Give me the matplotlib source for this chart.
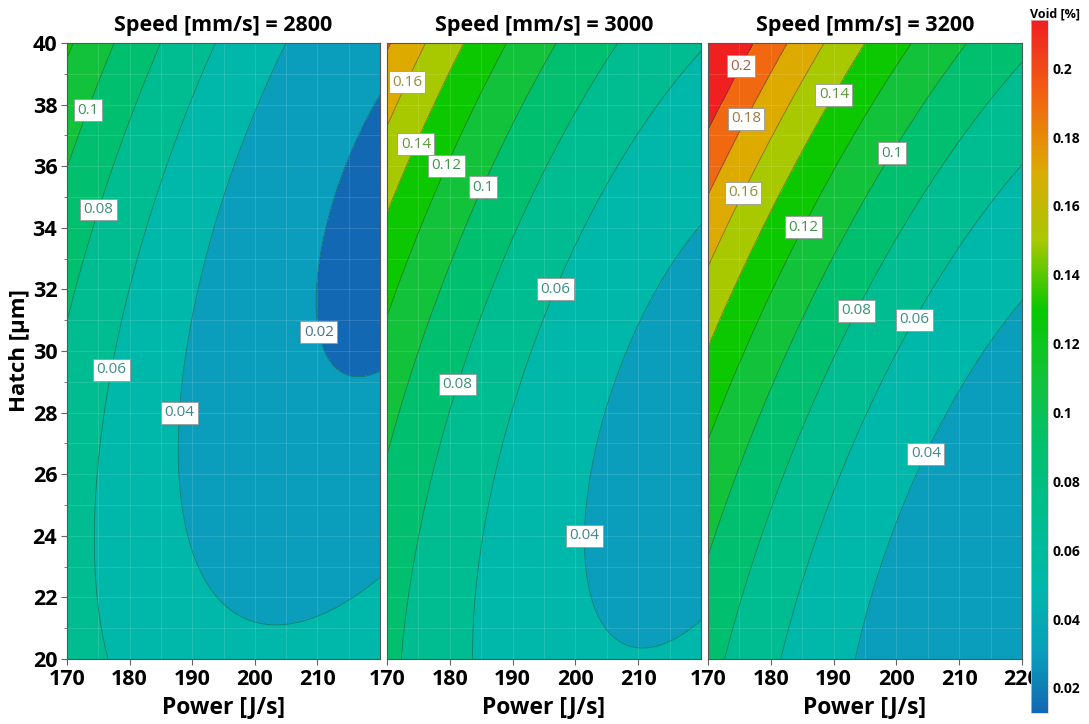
import numpy as np
import matplotlib
matplotlib.use("Agg")
import matplotlib.pyplot as plt
from matplotlib.colors import LinearSegmentedColormap, Normalize
from matplotlib.cm import ScalarMappable
from matplotlib.ticker import MultipleLocator

plt.rcParams['font.family'] = ['Open Sans', 'DejaVu Sans']

speeds = [2800, 3000, 3200]

# points read on the contour lines of each panel: power [J/s], hatch [um], void [%]
power_2800 = [177.4, 170.0, 173.5, 184.6, 175.0, 170.0, 193.4, 186.0, 176.9, 174.8, 176.4,
              205.1, 194.0, 187.3, 187.2, 191.3, 203.0, 220.0, 220.0, 209.9, 215.5, 220.0, 220.0]
hatch_2800 = [40.0, 36.0, 37.8, 40.0, 34.6, 31.1, 40.0, 35.0, 29.4, 23.4, 20.0,
              40.0, 34.7, 28.0, 26.6, 23.4, 20.9, 22.8, 37.2, 31.5, 29.5, 29.9, 33.0]
void_2800 = [0.10, 0.10, 0.10, 0.08, 0.08, 0.08, 0.06, 0.06, 0.06, 0.06, 0.06,
             0.04, 0.04, 0.04, 0.04, 0.04, 0.04, 0.04, 0.02, 0.02, 0.02, 0.02, 0.013]

power_3000 = [176.1, 170.0, 173.5, 182.0, 170.0, 174.8, 189.1, 170.0, 179.6, 196.9, 170.0, 185.4,
              206.2, 172.4, 181.4, 220.0, 183.6, 196.9, 220.0, 205.1, 201.4, 210.2, 220.0]
hatch_3000 = [40.0, 37.4, 38.7, 40.0, 34.6, 36.7, 40.0, 31.2, 36.0, 40.0, 26.7, 35.3,
              40.0, 20.0, 28.9, 39.6, 20.0, 32.0, 34.1, 28.5, 23.4, 20.3, 21.3]
void_3000 = [0.16, 0.16, 0.16, 0.14, 0.14, 0.14, 0.12, 0.12, 0.12, 0.10, 0.10, 0.10,
             0.08, 0.08, 0.08, 0.06, 0.06, 0.06, 0.04, 0.04, 0.04, 0.04, 0.04]

power_3200 = [177.4, 170.0, 175.6, 182.2, 170.0, 176.4, 187.8, 170.0, 175.9, 195.0, 170.0, 190.2,
              202.4, 170.0, 185.4, 210.4, 170.0, 199.5, 220.0, 173.2, 193.7, 220.0, 181.7, 203.0,
              220.0, 193.1, 204.3]
hatch_3200 = [40.0, 37.3, 39.2, 40.0, 35.1, 37.5, 40.0, 32.8, 35.1, 40.0, 30.3, 38.3,
              40.0, 27.2, 34.0, 40.0, 23.5, 36.4, 39.2, 20.0, 31.3, 36.0, 20.0, 31.0,
              31.7, 20.0, 26.7]
void_3200 = [0.20, 0.20, 0.20, 0.18, 0.18, 0.18, 0.16, 0.16, 0.16, 0.14, 0.14, 0.14,
             0.12, 0.12, 0.12, 0.10, 0.10, 0.10, 0.08, 0.08, 0.08, 0.06, 0.06, 0.06,
             0.04, 0.04, 0.04]

# contour label positions (power, hatch)
labels_2800 = [(173.5, 37.8), (175.0, 34.6), (176.9, 29.4), (187.3, 28.0), (212.5, 30.7)]
labels_3000 = [(173.5, 38.7), (174.8, 36.7), (179.6, 36.0), (185.4, 35.3), (181.4, 28.9),
               (196.9, 32.0), (202.0, 24.0)]
labels_3200 = [(175.6, 39.2), (176.4, 37.5), (175.9, 35.1), (190.2, 38.3), (185.4, 34.0),
               (199.5, 36.4), (193.7, 31.3), (203.0, 31.0), (204.3, 26.7)]

contour_levels = [0.02, 0.04, 0.06, 0.08, 0.10, 0.12, 0.14, 0.16, 0.18, 0.20]
cbar_ticks = [0.02, 0.04, 0.06, 0.08, 0.10, 0.12, 0.14, 0.16, 0.18, 0.20]
vmin, vmax = 0.0127, 0.214

data = {
    2800: (power_2800, hatch_2800, void_2800, labels_2800),
    3000: (power_3000, hatch_3000, void_3000, labels_3000),
    3200: (power_3200, hatch_3200, void_3200, labels_3200),
}

nodes = [(0.0127, '#1268b2'), (0.03, '#0a9ebc'), (0.05, '#00b8aa'), (0.07, '#00bd90'),
         (0.09, '#00c070'), (0.11, '#12c23a'), (0.13, '#08c800'), (0.15, '#a8c800'),
         (0.17, '#dcac00'), (0.19, '#f06a10'), (0.214, '#f02020')]
cmap = LinearSegmentedColormap.from_list(
    'void', [((v - vmin) / (vmax - vmin), c) for v, c in nodes])
norm = Normalize(vmin=vmin, vmax=vmax)


def fit_surface(P, H, V):
    p = (np.asarray(P) - 195.0) / 25.0
    h = (np.asarray(H) - 30.0) / 10.0
    A = np.column_stack([np.ones_like(p), p, h, p * p, h * h, p * h])
    coef, *_ = np.linalg.lstsq(A, np.asarray(V), rcond=None)
    return coef


def eval_surface(coef, P, H):
    p = (P - 195.0) / 25.0
    h = (H - 30.0) / 10.0
    return (coef[0] + coef[1] * p + coef[2] * h + coef[3] * p * p
            + coef[4] * h * h + coef[5] * p * h)


W, Hh = 1089, 724
fig = plt.figure(figsize=(W / 100, Hh / 100), dpi=100)
lefts = [67, 387, 708]
widths = [313, 314, 314]
bottom = (Hh - 659) / Hh
height = 616 / Hh

pg = np.linspace(170, 220, 300)
hg = np.linspace(20, 40, 300)
PP, HG = np.meshgrid(pg, hg)

fill_levels = [0.0] + contour_levels + [0.3]

for i, s in enumerate(speeds):
    P, H, V, labpos = data[s]
    ax = fig.add_axes([lefts[i] / W, bottom, widths[i] / W, height])
    coef = fit_surface(P, H, V)
    Z = eval_surface(coef, PP, HG)
    ax.contourf(PP, HG, Z, levels=fill_levels, cmap=cmap, norm=norm)
    cs = ax.contour(PP, HG, Z, levels=contour_levels, colors='#2a4a44',
                    linewidths=0.6, alpha=0.55)
    texts = ax.clabel(cs, manual=labpos, inline=False, fontsize=11,
                      fmt=lambda v: f"{v:g}")
    for t in texts:
        t.set_rotation(0)
        lv = float(t.get_text())
        c = np.array(cmap(norm(lv))[:3])
        tc = 0.45 * c + 0.55 * np.array([0.42, 0.42, 0.42])
        t.set_color(tc)
        t.set_bbox(dict(boxstyle='square,pad=0.22', fc='white', ec='#9a9a9a', lw=0.6))
        t.set_zorder(5)
    ax.set_xlim(170, 220)
    ax.set_ylim(20, 40)
    ax.xaxis.set_major_locator(MultipleLocator(10))
    ax.xaxis.set_minor_locator(MultipleLocator(5))
    ax.yaxis.set_major_locator(MultipleLocator(2))
    ax.yaxis.set_minor_locator(MultipleLocator(1))
    ax.grid(which='both', color='white', alpha=0.13, lw=0.7)
    ax.tick_params(axis='x', which='minor', length=0)
    ax.tick_params(axis='both', which='major', labelsize=15.5, length=4, color='#666666',
                   pad=3)
    ax.tick_params(axis='y', which='minor', length=2.5, color='#666666')
    if i < 2:
        ax.set_xticks([170, 180, 190, 200, 210])
    else:
        ax.set_xticks([170, 180, 190, 200, 210, 220])
    for lab in ax.get_xticklabels() + ax.get_yticklabels():
        lab.set_fontweight('bold')
    if i == 0:
        ax.set_ylabel('Hatch [µm]', fontsize=16, fontweight='bold', labelpad=2)
    else:
        ax.tick_params(axis='y', which='both', labelleft=False, length=0)
    ax.set_xlabel('Power [J/s]', fontsize=16.5, fontweight='bold', labelpad=4)
    ax.set_title(f'Speed [mm/s] = {s}', fontsize=15.5, fontweight='bold', pad=9)
    for sp in ax.spines.values():
        sp.set_color('#555555')
        sp.set_linewidth(0.8)

cax = fig.add_axes([1031 / W, (Hh - 713) / Hh, 17 / W, 693 / Hh])
cb = fig.colorbar(ScalarMappable(norm=norm, cmap=cmap), cax=cax)
cb.set_ticks(cbar_ticks)
cb.set_ticklabels([f"{t:g}" for t in cbar_ticks])
cb.ax.tick_params(labelsize=10, length=0, pad=3)
for lab in cb.ax.get_yticklabels():
    lab.set_fontweight('bold')
cb.outline.set_linewidth(0.5)
cb.outline.set_edgecolor('#cccccc')
fig.text(1030 / W, (Hh - 14) / Hh, 'Void [%]', fontsize=9, fontweight='bold',
         ha='left', va='center')

fig.savefig('out.png', dpi=100)
